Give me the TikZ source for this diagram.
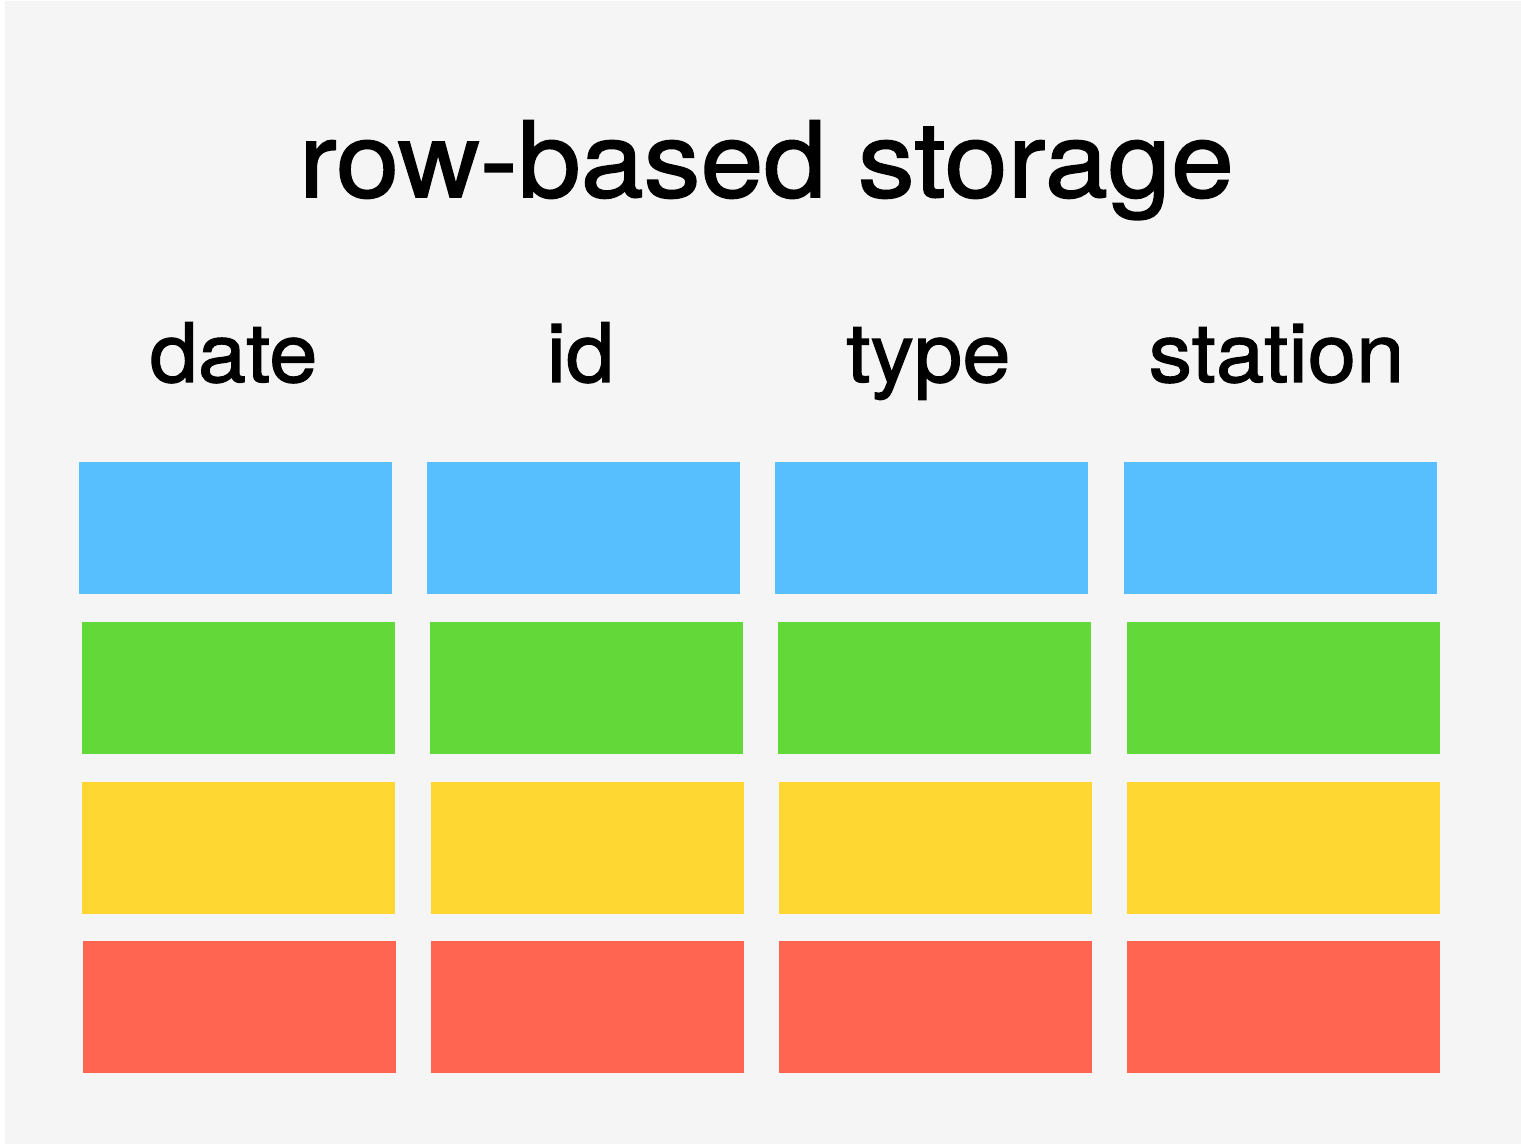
\documentclass[tikz,border=0pt]{standalone}
\usepackage{fontspec}
\setmainfont{TeX Gyre Heros}[FakeBold=1.4, FakeStretch=1.06]
\newfontfamily\headingfont{TeX Gyre Heros}[FakeBold=1.5, FakeStretch=1.08]
\definecolor{pagebg}{HTML}{F5F5F5}
\definecolor{cellblue}{HTML}{58BFFE}
\definecolor{cellgreen}{HTML}{63D939}
\definecolor{cellyellow}{HTML}{FFD732}
\definecolor{cellred}{HTML}{FF6550}
\tikzset{
  title/.style={anchor=base, inner sep=0pt, font=\headingfont\fontsize{52.5}{60}\selectfont},
  colhead/.style={anchor=base, inner sep=0pt, font=\fontsize{41}{48}\selectfont},
}
\begin{document}
\begin{tikzpicture}[x=0.5pt, y=-0.5pt]
  \useasboundingbox (0,0) rectangle (1521,1144);
  \fill[white] (0,0) rectangle (1521,1144);
  \fill[pagebg] (5,1) rectangle (1521,1144);

  \node[title] (title) at (766.5,197) {row-based storage};

  \node[colhead] (hdate) at (233.5,382) {date};
  \node[colhead] (hid) at (580.5,382) {id};
  \node[colhead] (htype) at (928.5,382) {type};
  \node[colhead] (hstation) at (1276.5,382) {station};

  % row 1
  \fill[cellblue] (79,462) rectangle (392,594);
  \fill[cellblue] (427,462) rectangle (740,594);
  \fill[cellblue] (775,462) rectangle (1088,594);
  \fill[cellblue] (1124,462) rectangle (1437,594);
  % row 2
  \fill[cellgreen] (82,622) rectangle (395,754);
  \fill[cellgreen] (430,622) rectangle (743,754);
  \fill[cellgreen] (778,622) rectangle (1091,754);
  \fill[cellgreen] (1127,622) rectangle (1440,754);
  % row 3
  \fill[cellyellow] (82,782) rectangle (395,914);
  \fill[cellyellow] (431,782) rectangle (744,914);
  \fill[cellyellow] (779,782) rectangle (1092,914);
  \fill[cellyellow] (1127,782) rectangle (1440,914);
  % row 4
  \fill[cellred] (83,941) rectangle (396,1073);
  \fill[cellred] (431,941) rectangle (744,1073);
  \fill[cellred] (779,941) rectangle (1092,1073);
  \fill[cellred] (1127,941) rectangle (1440,1073);
\end{tikzpicture}
\end{document}
